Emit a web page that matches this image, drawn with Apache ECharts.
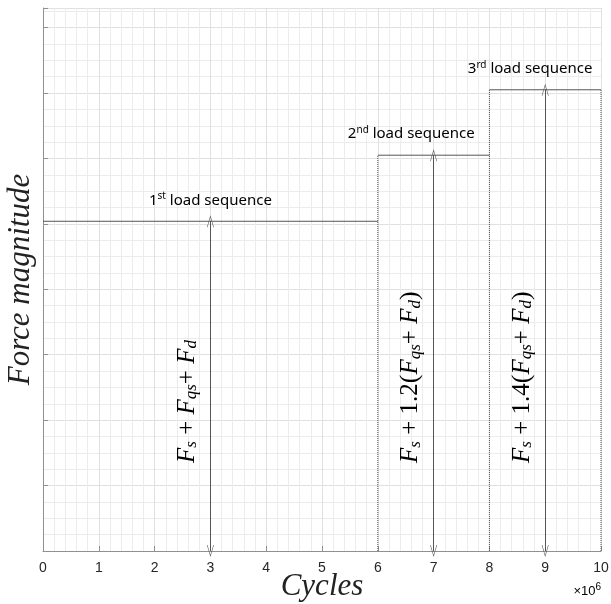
<!DOCTYPE html>
<html>
<head>
<meta charset="utf-8">
<script src="https://cdn.jsdelivr.net/npm/echarts@6/dist/echarts.min.js"></script>
<style>
html, body { margin: 0; padding: 0; background: #fff; }
#main { width: 611px; height: 604px; }
</style>
</head>
<body>
<div id="main"></div>
<script>
// data (x in 10^6 cycles, y in arbitrary force units)
var cycleBounds = [0, 6, 8, 10];
var loadLevels = [5.04, 6.05, 7.05];
var arrowCycles = [3, 7, 9];
var seqNumbers = ['1', '2', '3'];
var seqSuffix = ['st', 'nd', 'rd'];
var seqLabelX = [3, 6.6, 8.73];
var loadFactors = ['', '1.2', '1.4'];

var myChart = echarts.init(document.getElementById('main'));

var lineColor = '#555';
var arrowPath = 'path://M0,0 L6,12 L5,12 L0,2 L-5,12 L-6,12 Z';

var series = [];
// horizontal load levels
loadLevels.forEach(function (lv, i) {
    series.push({
        type: 'line',
        data: [[cycleBounds[i], lv], [cycleBounds[i + 1], lv]],
        symbol: 'none',
        lineStyle: { color: lineColor, width: 1 },
        silent: true
    });
});
// dotted edges of each sequence
for (var i = 1; i < cycleBounds.length; i++) {
    var edgeTop = loadLevels[Math.min(i, loadLevels.length - 1)];
    series.push({
        type: 'line',
        data: [[cycleBounds[i], 0], [cycleBounds[i], edgeTop]],
        symbol: 'none',
        lineStyle: { color: lineColor, width: 1, type: 'dotted' },
        silent: true
    });
}
// double arrows
series.push({
    type: 'line',
    data: [],
    markLine: {
        silent: true,
        animation: false,
        symbol: [arrowPath, arrowPath],
        symbolSize: [7, 12],
        lineStyle: { color: lineColor, width: 1, type: 'solid' },
        label: { show: false },
        data: arrowCycles.map(function (c, i) {
            return [{ coord: [c, 0] }, { coord: [c, loadLevels[i]] }];
        })
    }
});

option = {
    animation: false,
    grid: { left: 43, right: 10, top: 8, bottom: 53, containLabel: false, outerBoundsMode: 'none' },
    xAxis: {
        type: 'value',
        min: 0,
        max: 10,
        interval: 1,
        name: 'Cycles',
        nameLocation: 'middle',
        nameGap: 20,
        nameMoveOverlap: false,
        nameTextStyle: {
            fontFamily: 'Liberation Serif',
            fontStyle: 'italic',
            fontSize: 31,
            color: '#222',
            verticalAlign: 'top'
        },
        axisLine: { lineStyle: { color: '#909090', width: 1 } },
        axisTick: { inside: true, length: 5, lineStyle: { color: '#909090' } },
        axisLabel: { margin: 10, fontSize: 14, color: '#262626', fontFamily: 'Liberation Sans' },
        splitLine: { show: true, lineStyle: { color: '#e0e0e0' } },
        minorTick: { show: false, splitNumber: 5 },
        minorSplitLine: { show: true, lineStyle: { color: '#ececec' } }
    },
    yAxis: {
        type: 'value',
        min: 0,
        max: 8.3,
        interval: 1,
        name: 'Force magnitude',
        nameLocation: 'middle',
        nameGap: 7,
        nameMoveOverlap: false,
        nameTextStyle: {
            fontFamily: 'Liberation Serif',
            fontStyle: 'italic',
            fontSize: 31,
            color: '#222'
        },
        axisLine: { show: true, lineStyle: { color: '#909090', width: 1 } },
        axisTick: { show: true, inside: true, length: 5, lineStyle: { color: '#909090' } },
        axisLabel: { show: false },
        splitLine: { show: true, lineStyle: { color: '#e0e0e0' } },
        minorTick: { show: false, splitNumber: 4 },
        minorSplitLine: { show: true, lineStyle: { color: '#ececec' } }
    },
    series: series
};
myChart.setOption(option);

// text annotations anchored to data positions
var mathRich = {
    F: { fontFamily: 'Liberation Serif', fontStyle: 'italic', fontSize: 25, lineHeight: 26, color: '#111' },
    sub: { fontFamily: 'Liberation Serif', fontStyle: 'italic', fontSize: 17, lineHeight: 14, verticalAlign: 'bottom', color: '#111' },
    op: { fontFamily: 'Liberation Serif', fontSize: 25, lineHeight: 26, color: '#111' },
    par: { fontFamily: 'Liberation Serif', fontSize: 26, lineHeight: 26, color: '#111' }
};
var seqRich = {
    n: { fontFamily: 'Noto Sans', fontSize: 15, lineHeight: 18, color: '#222' },
    sup: { fontFamily: 'Noto Sans', fontSize: 10, lineHeight: 10, verticalAlign: 'top', color: '#222' }
};

function mathText(f) {
    var s = '{F|F}{sub|s}{op| + }';
    if (f) {
        return s + '{op|' + f + '}{par|(}{F|F}{sub|qs}{op|+ }{F|F}{sub|d}{par|)}';
    }
    return s + '{F|F}{sub|qs}{op|+ }{F|F}{sub|d}';
}

var graphics = [];
arrowCycles.forEach(function (c, i) {
    var lvPx = myChart.convertToPixel({ gridIndex: 0 }, [seqLabelX[i], loadLevels[i]]);
    var basePx = myChart.convertToPixel({ gridIndex: 0 }, [c, 0]);
    graphics.push({
        type: 'text',
        x: lvPx[0],
        y: lvPx[1] - 12,
        style: {
            text: '{n|' + seqNumbers[i] + '}{sup|' + seqSuffix[i] + '}{n| load sequence}',
            rich: seqRich,
            textAlign: 'center',
            textVerticalAlign: 'bottom'
        }
    });
    graphics.push({
        type: 'text',
        x: basePx[0] - 23,
        y: basePx[1] - 88,
        rotation: Math.PI / 2,
        style: {
            text: mathText(loadFactors[i]),
            rich: mathRich,
            textAlign: 'left',
            textVerticalAlign: 'middle'
        }
    });
});
graphics.push({
    type: 'text',
    right: 10,
    bottom: 6,
    style: {
        text: '{a|\u00d710}{b|6}',
        rich: {
            a: { fontFamily: 'Liberation Sans', fontSize: 13, lineHeight: 16, color: '#262626', verticalAlign: 'bottom' },
            b: { fontFamily: 'Liberation Sans', fontSize: 10, lineHeight: 10, color: '#262626', verticalAlign: 'top' }
        }
    }
});
myChart.setOption({ graphic: graphics });
</script>
</body>
</html>
